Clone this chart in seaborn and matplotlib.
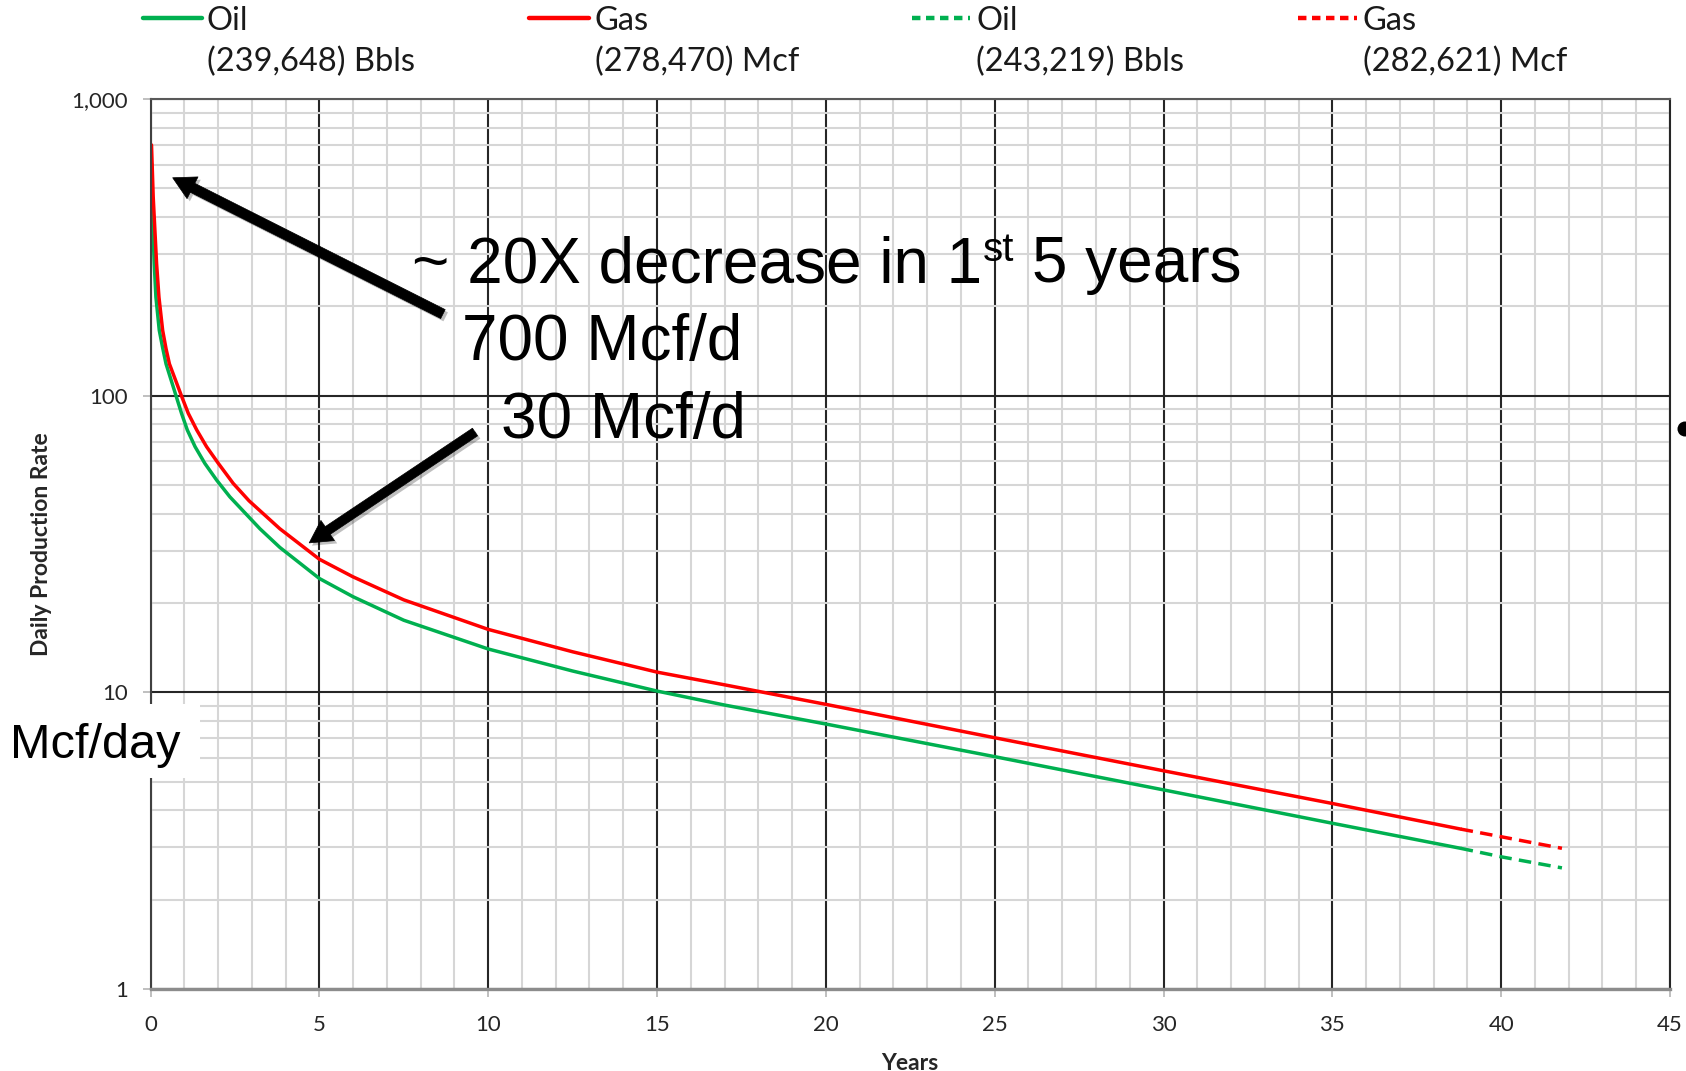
import matplotlib
matplotlib.use("Agg")
import matplotlib.pyplot as plt
import matplotlib.patheffects as pe
import pandas as pd
import seaborn as sns
from matplotlib.lines import Line2D
from matplotlib.patches import Rectangle, Circle
from matplotlib.ticker import MultipleLocator, LogLocator, NullFormatter

# ---- production history: years on production vs daily rate ----
oil_years = [0.03, 0.055, 0.11, 0.16, 0.26, 0.36, 0.46, 0.76, 0.92, 1.09, 1.32, 1.61,
             1.96, 2.35, 3.24, 3.83, 5.0, 6.0, 7.5, 10, 12.5, 15, 17, 20, 25, 30, 35, 38.8]
oil_rate = [607, 411, 279, 215, 166, 145, 128, 99.6, 87.1, 76.6, 67.3, 59.1,
            51.9, 45.6, 35.6, 30.8, 24.2, 21.0, 17.5, 14.0, 11.8, 10.1, 9.06, 7.82,
            6.07, 4.69, 3.62, 2.98]

gas_years = [0.03, 0.08, 0.13, 0.18, 0.25, 0.36, 0.46, 0.56, 0.92, 1.12, 1.37, 1.66,
             2.01, 2.45, 2.92, 3.83, 5.0, 6.0, 7.5, 10, 12.5, 15, 17, 20, 25, 30, 35, 38.8]
gas_rate = [700, 468, 361, 279, 215, 166, 144, 128, 99.6, 87.1, 76.6, 67.3,
            59.1, 50.6, 44.2, 35.6, 28.1, 24.5, 20.5, 16.3, 13.7, 11.7, 10.6, 9.11,
            7.03, 5.44, 4.22, 3.46]

# ---- forecast tail ----
oil_fc_years = [38.8, 40, 41.8]
oil_fc_rate = [2.98, 2.79, 2.56]
gas_fc_years = [38.8, 40, 41.8]
gas_fc_rate = [3.46, 3.26, 2.98]

# ---- legend content ----
legend_names = ["Oil", "Gas", "Oil", "Gas"]
legend_totals = ["(239,648) Bbls", "(278,470) Mcf", "(243,219) Bbls", "(282,621) Mcf"]

# ---- axis ticks ----
x_ticks = [0, 5, 10, 15, 20, 25, 30, 35, 40, 45]
y_ticks = [1, 10, 100, 1000]
y_tick_labels = ["1", "10", "100", "1,000"]

OIL_C = "#00B050"
GAS_C = "#FF0000"

sns.set_theme(style="white")
plt.rcParams["font.family"] = ["Lato", "DejaVu Sans"]

W, H = 1686, 1071
fig = plt.figure(figsize=(W / 100, H / 100), dpi=100)


def fx(px):
    return px / W


def fy(py):
    return 1 - py / H


ax = fig.add_axes([fx(150.5), fy(989), (1670 - 150.5) / W, (989 - 99) / H])

hist = pd.concat([
    pd.DataFrame({"Years": oil_years, "Rate": oil_rate, "Stream": "Oil"}),
    pd.DataFrame({"Years": gas_years, "Rate": gas_rate, "Stream": "Gas"}),
])
fcst = pd.concat([
    pd.DataFrame({"Years": oil_fc_years, "Rate": oil_fc_rate, "Stream": "Oil"}),
    pd.DataFrame({"Years": gas_fc_years, "Rate": gas_fc_rate, "Stream": "Gas"}),
])
palette = {"Oil": OIL_C, "Gas": GAS_C}

sns.lineplot(data=hist, x="Years", y="Rate", hue="Stream", palette=palette,
             estimator=None, linewidth=2.5, legend=False, ax=ax)
sns.lineplot(data=fcst, x="Years", y="Rate", hue="Stream", palette=palette,
             estimator=None, linewidth=2.5, legend=False, ax=ax,
             linestyle=(0, (3.6, 2.1)))

ax.set_yscale("log")
ax.set_xlim(0, 45)
ax.set_ylim(1, 1000)
ax.set_xticks(x_ticks)
ax.xaxis.set_minor_locator(MultipleLocator(1))
ax.set_yticks(y_ticks, labels=y_tick_labels)
ax.yaxis.set_minor_locator(LogLocator(base=10, subs=range(2, 10)))
ax.yaxis.set_minor_formatter(NullFormatter())

ax.grid(True, which="minor", color="#d6d6d6", linewidth=1.5)
ax.grid(True, which="major", color="#262626", linewidth=1.5)
ax.set_axisbelow(True)

ax.tick_params(which="minor", length=0)
ax.tick_params(which="major", bottom=True, left=True, length=5.8, width=1.4,
               color="#bfbfbf", labelsize=16, labelcolor="#262626")
ax.tick_params(axis="x", pad=13)
ax.tick_params(axis="y", pad=10.5)

ax.spines["left"].set_color("#404040")
ax.spines["left"].set_linewidth(1.5)
ax.spines["bottom"].set_color("#8c8c8c")
ax.spines["bottom"].set_linewidth(2.4)
ax.spines["top"].set_color("#595959")
ax.spines["top"].set_linewidth(1.5)
ax.spines["right"].set_color("#262626")
ax.spines["right"].set_linewidth(1.5)

ax.set_xlabel("Years", fontsize=16.5, fontweight="bold", color="#262626")
ax.set_ylabel("Daily Production Rate", fontsize=16.5, fontweight="bold", color="#262626")
ax.xaxis.set_label_coords(0.5, -0.072)
ax.yaxis.set_label_coords(-0.0651, 0.5)

# ---- legend row across the top ----
handle_x = [(143, 202), (529, 589), (912, 970), (1298, 1357)]
text_x = [207, 595, 976, 1363]
handle_colors = [OIL_C, GAS_C, OIL_C, GAS_C]
handle_styles = ["-", "-", (0, (1.9, 1.25)), (0, (1.9, 1.25))]
for (x0, x1), tx, col, ls, name, total in zip(handle_x, text_x, handle_colors,
                                              handle_styles, legend_names, legend_totals):
    fig.add_artist(Line2D([fx(x0), fx(x1)], [fy(18.3), fy(18.3)], color=col,
                          linewidth=3.2, linestyle=ls, transform=fig.transFigure))
    fig.text(fx(tx), fy(29.5), name, fontsize=23.5, color="#1a1a1a",
             ha="left", va="baseline")
    fig.text(fx(tx), fy(71), total, fontsize=23.5, color="#1a1a1a",
             ha="left", va="baseline")

# ---- call-outs ----
arial = ["Liberation Sans", "DejaVu Sans"]
renderer = fig.canvas.get_renderer()
head_x, head_y = 7.74, 241.6
t_head = ax.text(head_x, head_y, "~ 20X decrease in 1", fontsize=46, family=arial,
                 color="black", ha="left", va="baseline", zorder=6)
head_bb = t_head.get_window_extent(renderer=renderer)
_, base_px = ax.transData.transform((head_x, head_y))
t_sup = fig.text((head_bb.x1 + 1) / W, (base_px + 21) / H, "st", fontsize=29,
                 family=arial, color="black", ha="left", va="baseline", zorder=6)
sup_bb = t_sup.get_window_extent(renderer=renderer)
fig.text((sup_bb.x1 + 17.8) / W, base_px / H, "5 years", fontsize=46, family=arial,
         color="black", ha="left", va="baseline", zorder=6)

ax.text(9.23, 131.6, "700 Mcf/d", fontsize=46, family=arial, color="black",
        ha="left", va="baseline", zorder=6)
ax.text(10.38, 72.2, "30 Mcf/d", fontsize=46, family=arial, color="black",
        ha="left", va="baseline", zorder=6)

shadow = [pe.SimplePatchShadow(offset=(2, -2), alpha=0.25), pe.Normal()]
arrow_props = dict(width=7.2, headwidth=17.5, headlength=16, shrink=0.0,
                   facecolor="black", edgecolor="black", linewidth=0.5,
                   path_effects=shadow)
ax.annotate("", xy=(0.657, 542.6), xytext=(8.66, 188.4),
            arrowprops=arrow_props, zorder=7)
ax.annotate("", xy=(4.70, 31.9), xytext=(9.61, 75.4),
            arrowprops=dict(arrow_props, width=6.6), zorder=7)

# ---- unit tag at the lower left ----
fig.add_artist(Rectangle((fx(0), fy(778)), fx(200), (778 - 704) / H,
                         transform=fig.transFigure, facecolor="white",
                         edgecolor="none", zorder=4))
fig.text(fx(10), fy(758.5), "Mcf/day", fontsize=35, family=arial, color="black",
         ha="left", va="baseline", zorder=5)

# ---- bullet cut off at the right edge ----
fig.add_artist(Circle((16.85, (H - 429) / 100), 0.075, transform=fig.dpi_scale_trans,
                      facecolor="black", edgecolor="none"))

fig.savefig("out.png", dpi=100)
